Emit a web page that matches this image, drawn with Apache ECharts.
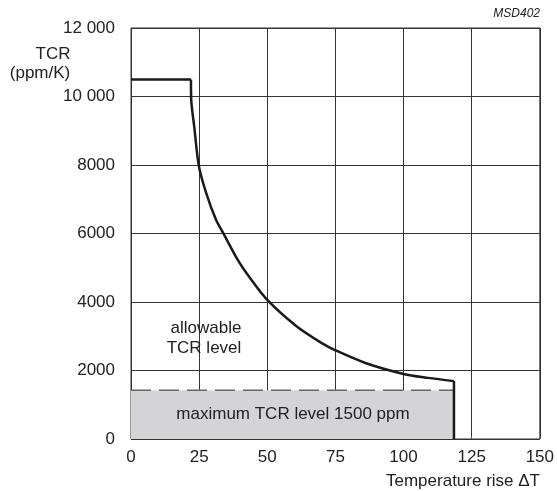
<!DOCTYPE html>
<html>
<head>
<meta charset="utf-8">
<script src="https://cdn.jsdelivr.net/npm/echarts@6/dist/echarts.min.js"></script>
<style>
  html, body { margin: 0; padding: 0; background: #fff; }
  #chart { width: 557px; height: 491px; }
</style>
</head>
<body>
<div id="chart"></div>
<script>
// curve: temperature rise vs allowable TCR
const curveT = [22, 22.1, 23.2, 24.9, 27.6, 31.2, 34, 39.1, 43.4, 50, 60.6, 70, 75, 86, 100, 109, 118.5];
const curveTcr = [10500, 9900, 9120, 7970, 7180, 6400, 5990, 5240, 4730, 4060, 3300, 2800, 2590, 2220, 1900, 1785, 1690];
// flat top and final drop
const flatT = [0, 22];
const flatTcr = [10500, 10500];
const dropT = [118.5, 118.5];
const dropTcr = [1690, 0];
// maximum TCR band
const maxBandX = [0, 118.5];
const maxBandY = [1420, 1420];

const font = "Liberation Sans, Arial, sans-serif";
const chart = echarts.init(document.getElementById("chart"));

const pairs = (xs, ys) => xs.map((x, i) => [x, ys[i]]);
const curveStyle = { color: "#1a1a1a", width: 2.5 };

chart.setOption({
  animation: false,
  backgroundColor: "#fff",
  grid: { left: 131, right: 15, top: 28, bottom: 52, show: true, borderColor: "#333", borderWidth: 1 },
  xAxis: {
    type: "value", min: 0, max: 150, interval: 25,
    axisLine: { show: false },
    axisTick: { show: true, inside: true, length: 3, lineStyle: { color: "#555" } },
    splitLine: { show: true, lineStyle: { color: "#333", width: 1 } },
    axisLabel: { color: "#222", fontSize: 17, fontFamily: font, margin: 10 }
  },
  yAxis: {
    type: "value", min: 0, max: 12000, interval: 2000,
    axisLine: { show: false },
    axisTick: { show: false },
    splitLine: { show: true, lineStyle: { color: "#333", width: 1 } },
    axisLabel: {
      color: "#222", fontSize: 17, fontFamily: font, margin: 16,
      formatter: v => v >= 10000 ? String(v).replace(/(\d{2})(\d{3})$/, "$1 $2") : String(v)
    }
  },
  series: [
    {
      type: "line", data: pairs(maxBandX, maxBandY), symbol: "none", z: 2,
      lineStyle: { color: "#666", width: 1.5, type: [20, 8] },
      areaStyle: { color: "#d4d4d6", opacity: 1, origin: "start" }
    },
    { type: "line", data: pairs(flatT, flatTcr), symbol: "none", z: 3, lineStyle: curveStyle },
    {
      type: "line", data: pairs(curveT, curveTcr), symbol: "none", z: 3,
      smooth: 0.3, lineStyle: curveStyle
    },
    { type: "line", data: pairs(dropT, dropTcr), symbol: "none", z: 3, lineStyle: curveStyle }
  ],
  graphic: [
    { type: "text", z: 100, x: 540, y: 8, style: { text: "MSD402", font: "italic 12px " + font, fill: "#222", align: "right" } },
    { type: "text", z: 100, x: 53, y: 46, style: { text: "TCR", font: "17px " + font, fill: "#222", align: "center" } },
    { type: "text", z: 100, x: 40, y: 65, style: { text: "(ppm/K)", font: "17px " + font, fill: "#222", align: "center" } },
    { type: "text", z: 100, x: 206, y: 320, style: { text: "allowable", font: "17px " + font, fill: "#222", align: "center" } },
    { type: "text", z: 100, x: 204, y: 340, style: { text: "TCR level", font: "17px " + font, fill: "#222", align: "center" } },
    { type: "text", z: 100, x: 293, y: 406, style: { text: "maximum TCR level 1500 ppm", font: "17px " + font, fill: "#222", align: "center" } },
    { type: "text", z: 100, x: 540, y: 473, style: { text: "Temperature rise \u0394T", font: "17px " + font, fill: "#222", align: "right" } }
  ]
});
</script>
</body>
</html>
